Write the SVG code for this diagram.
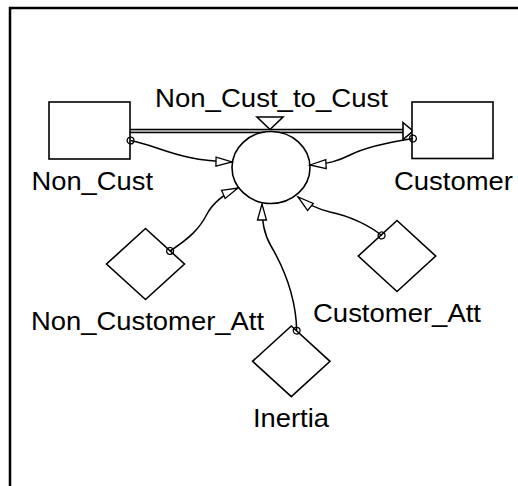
<svg xmlns="http://www.w3.org/2000/svg" width="518" height="486" viewBox="0 0 518 486">
  <style>
    .shape { fill: #fff; stroke: #000; stroke-width: 1.6; }
    .link { fill: none; stroke: #000; stroke-width: 1.5; marker-start: url(#tail); marker-end: url(#head); }
    .label { font-family: "Liberation Sans", Arial, sans-serif; font-size: 25.5px; fill: #000; }
    .frame { stroke: #000; stroke-width: 2.5; fill: none; }
  </style>
  <defs>
    <marker id="head" markerUnits="userSpaceOnUse" markerWidth="20" markerHeight="12" refX="16" refY="4.5" orient="auto" overflow="visible">
      <path d="M0,0 L16,4.5 L0,9 Z" fill="#fff" stroke="#000" stroke-width="1.3"/>
    </marker>
    <marker id="tail" markerUnits="userSpaceOnUse" markerWidth="10" markerHeight="10" refX="4" refY="4" orient="auto" overflow="visible">
      <circle cx="4" cy="4" r="3.4" fill="none" stroke="#000" stroke-width="1.3"/>
    </marker>
  </defs>

  <rect width="518" height="486" fill="#fff"/>
  <path class="frame" d="M10,486 L10,8 L518,8"/>

  <!-- flow pipe from Non_Cust to Customer -->
  <g id="flow">
    <line x1="130" y1="131" x2="404" y2="131" stroke="#000" stroke-width="4.6"/>
    <line x1="130" y1="131" x2="404" y2="131" stroke="#d4d4d4" stroke-width="1.6"/>
    <path d="M403,122.5 L413,131 L403,139.5 Z" class="shape" stroke-width="1.4"/>
    <path d="M257,117 L283,117 L270,129.5 Z" class="shape" stroke-width="1.4"/>
  </g>

  <g id="Non_Cust">
    <rect class="shape" x="49" y="102" width="81" height="57"/>
    <text class="label" x="31.5" y="190" textLength="121.5" lengthAdjust="spacingAndGlyphs">Non_Cust</text>
  </g>

  <g id="Customer">
    <rect class="shape" x="412" y="102" width="81" height="56.5"/>
    <text class="label" x="394" y="190" textLength="119" lengthAdjust="spacingAndGlyphs">Customer</text>
  </g>

  <g id="Non_Cust_to_Cust">
    <ellipse class="shape" cx="271" cy="167.5" rx="39" ry="36"/>
    <text class="label" x="155" y="106.5" textLength="233" lengthAdjust="spacingAndGlyphs">Non_Cust_to_Cust</text>
  </g>

  <g id="Non_Customer_Att">
    <path class="shape" d="M145.5,228.5 L184.5,264 L145.5,299.5 L106.5,264 Z"/>
    <text class="label" x="31" y="330" textLength="233" lengthAdjust="spacingAndGlyphs">Non_Customer_Att</text>
  </g>

  <g id="Customer_Att">
    <path class="shape" d="M397,220.5 L435.7,256 L397,291.5 L358.3,256 Z"/>
    <text class="label" x="313" y="321.5" textLength="168" lengthAdjust="spacingAndGlyphs">Customer_Att</text>
  </g>

  <g id="Inertia">
    <path class="shape" d="M291.3,326 L330,361.3 L291.3,396.6 L252.6,361.3 Z"/>
    <text class="label" x="253" y="426.5" textLength="76" lengthAdjust="spacingAndGlyphs">Inertia</text>
  </g>

  <!-- information links -->
  <g id="connectors">
    <path class="link" d="M130.5,140.5 C160,146 178,161 232,162"/>
    <path class="link" d="M413,138.5 C390,142 368,146 350,155 C338,161 328,164 310,165"/>
    <path class="link" d="M170,251 C190,238 200,228 207,214 C213,203 222,195 238,188"/>
    <path class="link" d="M296.7,330.7 C296,298 285,270 271,246 C264,234 262,222 262,204"/>
    <path class="link" d="M381.7,235.5 C370,226 350,216 330,212 C318,209 308,205 298,197"/>
  </g>
</svg>
